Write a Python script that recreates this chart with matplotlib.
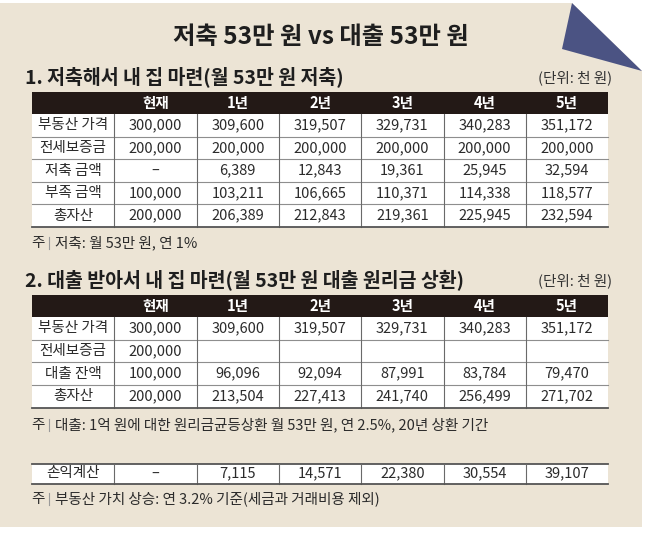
import matplotlib
matplotlib.use('Agg')
import matplotlib.pyplot as plt
from matplotlib.patches import Polygon, Rectangle

plt.rcParams['font.family'] = ['Noto Sans CJK KR', 'DejaVu Sans']

# Data
title = '저축 53만 원 vs 대출 53만 원'
heading1 = '1. 저축해서 내 집 마련(월 53만 원 저축)'
heading2 = '2. 대출 받아서 내 집 마련(월 53만 원 대출 원리금 상환)'
unit = '(단위: 천 원)'
cols = ['현재', '1년', '2년', '3년', '4년', '5년']

t1_rows = ['부동산 가격', '전세보증금', '저축 금액', '부족 금액', '총자산']
t1_vals = [
    [300000, 309600, 319507, 329731, 340283, 351172],
    [200000, 200000, 200000, 200000, 200000, 200000],
    [None, 6389, 12843, 19361, 25945, 32594],
    [100000, 103211, 106665, 110371, 114338, 118577],
    [200000, 206389, 212843, 219361, 225945, 232594],
]
note1 = '저축: 월 53만 원, 연 1%'

t2_rows = ['부동산 가격', '전세보증금', '대출 잔액', '총자산']
t2_vals = [
    [300000, 309600, 319507, 329731, 340283, 351172],
    [200000, '', '', '', '', ''],
    [100000, 96096, 92094, 87991, 83784, 79470],
    [200000, 213504, 227413, 241740, 256499, 271702],
]
note2 = '대출: 1억 원에 대한 원리금균등상환 월 53만 원, 연 2.5%, 20년 상환 기간'

pl_label = '손익계산'
pl_vals = [None, 7115, 14571, 22380, 30554, 39107]
note3 = '부동산 가치 상승: 연 3.2% 기준(세금과 거래비용 제외)'

BG = '#ece4d5'
HEAD = '#231916'
TXT = '#2b2b2b'
X0, CW = 32, 82.3


def fmt(v):
    if v is None:
        return '–'
    if v == '':
        return ''
    return f'{v:,}'


fig = plt.figure(figsize=(6.5, 5.33), dpi=100)
ax = fig.add_axes([0, 0, 1, 1])
ax.set_xlim(0, 650)
ax.set_ylim(533, 0)
ax.axis('off')

# background with folded corner
ax.add_patch(Polygon([(0, 3), (572, 3), (642, 71), (642, 527), (0, 527)],
                     closed=True, fc=BG, ec='none'))
ax.add_patch(Polygon([(572, 3), (562, 49), (642, 71)], closed=True,
                     fc='#4b5383', ec='none'))

ax.text(321, 37, title, ha='center', va='center', fontsize=17.5,
        fontweight='bold', color='#1e1e1e')


def draw_rows(top, row_h, labels, values):
    n = len(labels)
    right = X0 + CW * 7
    ax.add_patch(Rectangle((X0, top), CW * 7, row_h * n, fc='white', ec='none'))
    for i, (lab, vals) in enumerate(zip(labels, values)):
        yc = top + row_h * (i + 0.5)
        ax.text(X0 + CW / 2, yc, lab, ha='center', va='center',
                fontsize=10.5, color=TXT)
        for j, v in enumerate(vals):
            ax.text(X0 + CW * (j + 1.5), yc, fmt(v), ha='center',
                    va='center', fontsize=10.5, color=TXT)
        if i > 0:
            ax.plot([X0, right], [top + row_h * i] * 2, color='#8e8e8e',
                    lw=0.8)
    for j in range(1, 7):
        ax.plot([X0 + CW * j] * 2, [top, top + row_h * n], color='#6a6a6a',
                lw=0.8)
    ax.plot([X0, right], [top + row_h * n] * 2, color='#555555', lw=1.3)


def draw_table(heading, top, head_h, row_h, labels, values):
    ax.text(25, top - 15, heading, ha='left', va='center', fontsize=14,
            fontweight='bold', color='#1e1e1e')
    ax.text(612, top - 14, unit, ha='right', va='center', fontsize=10.5,
            color='#333333')
    ax.add_patch(Rectangle((X0, top), CW * 7, head_h, fc=HEAD, ec='none'))
    for j, c in enumerate(cols):
        ax.text(X0 + CW * (j + 1.5), top + head_h / 2, c, ha='center',
                va='center', fontsize=10.5, fontweight='bold', color='white')
    draw_rows(top + head_h, row_h, labels, values)


def draw_note(y, text):
    ax.text(31, y, '주', ha='left', va='center', fontsize=10.5, color=TXT)
    ax.plot([49, 49], [y - 6, y + 6], color='#9a9a9a', lw=0.8)
    ax.text(55, y, text, ha='left', va='center', fontsize=10.5, color=TXT)


draw_table(heading1, 92, 22, 22.6, t1_rows, t1_vals)
draw_note(243, note1)

draw_table(heading2, 295, 22, 22.7, t2_rows, t2_vals)
draw_note(425, note2)

ax.plot([X0, X0 + CW * 7], [463.5, 463.5], color='#555555', lw=1.3)
draw_rows(463.5, 20, [pl_label], [pl_vals])
draw_note(499, note3)

fig.savefig('out.png', dpi=100, facecolor='white')
